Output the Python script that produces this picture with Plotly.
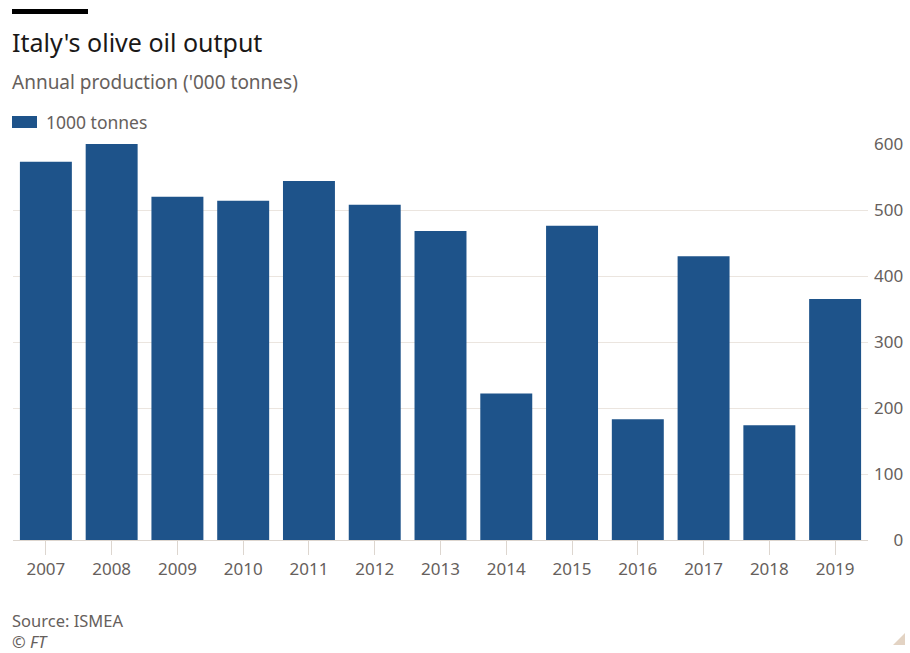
import plotly.graph_objects as go

years = ["2007", "2008", "2009", "2010", "2011", "2012", "2013",
         "2014", "2015", "2016", "2017", "2018", "2019"]
production = [573, 601, 520, 514, 544, 508, 468, 222, 476, 183, 430, 174, 365]
y_ticks = [0, 100, 200, 300, 400, 500, 600]
y_tick_text = ["\u2007\u20070", "100", "200", "300", "400", "500", "600"]

FONT = "Noto Sans"
BLUE = "#1e538a"
GREY = "#66605c"
GRID = "#ebe5df"

W, H = 910, 653
L, R, T, B = 13, 42, 144, 113
PW, PH = W - L - R, H - T - B


def px(x):
    return (x - L) / PW


def py(y):
    return (H - B - y) / PH


fig = go.Figure()
fig.add_trace(go.Bar(
    x=years, y=production, name="1000 tonnes",
    marker=dict(color=BLUE, line=dict(width=0)),
    showlegend=False,
))

fig.update_layout(
    width=W, height=H,
    margin=dict(l=L, r=R, t=T, b=B, autoexpand=False),
    paper_bgcolor="white", plot_bgcolor="white",
    font=dict(family=FONT, color=GREY, size=16),
    bargap=0.21,
    showlegend=False,
    xaxis=dict(
        type="category", range=[-0.5, 12.5],
        showgrid=False, showline=True, linecolor="#ddd6cf", linewidth=1,
        ticks="outside", ticklen=14, tickcolor="#ddd6cf", tickwidth=1,
        tickfont=dict(family=FONT, size=17, color=GREY),
        fixedrange=True,
    ),
    yaxis=dict(
        side="right", range=[0, 600],
        tickvals=y_ticks, ticktext=y_tick_text,
        showgrid=True, gridcolor=GRID, gridwidth=1,
        zeroline=False, showline=False, ticks="",
        tickfont=dict(family=FONT, size=17, color=GREY),
        ticklabelstandoff=5,
        fixedrange=True,
    ),
    shapes=[
        dict(type="rect", xref="paper", yref="paper",
             x0=px(12), x1=px(88), y0=py(14), y1=py(9),
             fillcolor="#000000", line=dict(width=0)),
        dict(type="rect", xref="paper", yref="paper",
             x0=px(12), x1=px(37), y0=py(128), y1=py(116),
             fillcolor=BLUE, line=dict(width=0)),
        dict(type="path", xref="paper", yref="paper",
             path="M %f %f L %f %f L %f %f Z" % (
                 px(893), py(645), px(905), py(645), px(905), py(633)),
             fillcolor="#e3d3c3", line=dict(width=0)),
    ],
    annotations=[
        dict(text="Italy's olive oil output", xref="paper", yref="paper",
             x=px(10), y=py(42), xanchor="left", yanchor="middle",
             showarrow=False, font=dict(family=FONT, size=25, color="#1a1817")),
        dict(text="Annual production ('000 tonnes)", xref="paper", yref="paper",
             x=px(10), y=py(82), xanchor="left", yanchor="middle",
             showarrow=False, font=dict(family=FONT, size=19, color=GREY)),
        dict(text="1000 tonnes", xref="paper", yref="paper",
             x=px(44), y=py(122), xanchor="left", yanchor="middle",
             showarrow=False, font=dict(family=FONT, size=17.5, color=GREY)),
        dict(text="Source: ISMEA", xref="paper", yref="paper",
             x=px(10), y=py(620), xanchor="left", yanchor="middle",
             showarrow=False, font=dict(family=FONT, size=16.5, color=GREY)),
        dict(text="<i>© FT</i>", xref="paper", yref="paper",
             x=px(10), y=py(641), xanchor="left", yanchor="middle",
             showarrow=False, font=dict(family=FONT, size=16.5, color=GREY)),
    ],
)

fig.write_html("out.html",
               config={"displayModeBar": False},
               post_script="document.body.style.margin='0px';"
                           "document.body.style.overflow='hidden';")
